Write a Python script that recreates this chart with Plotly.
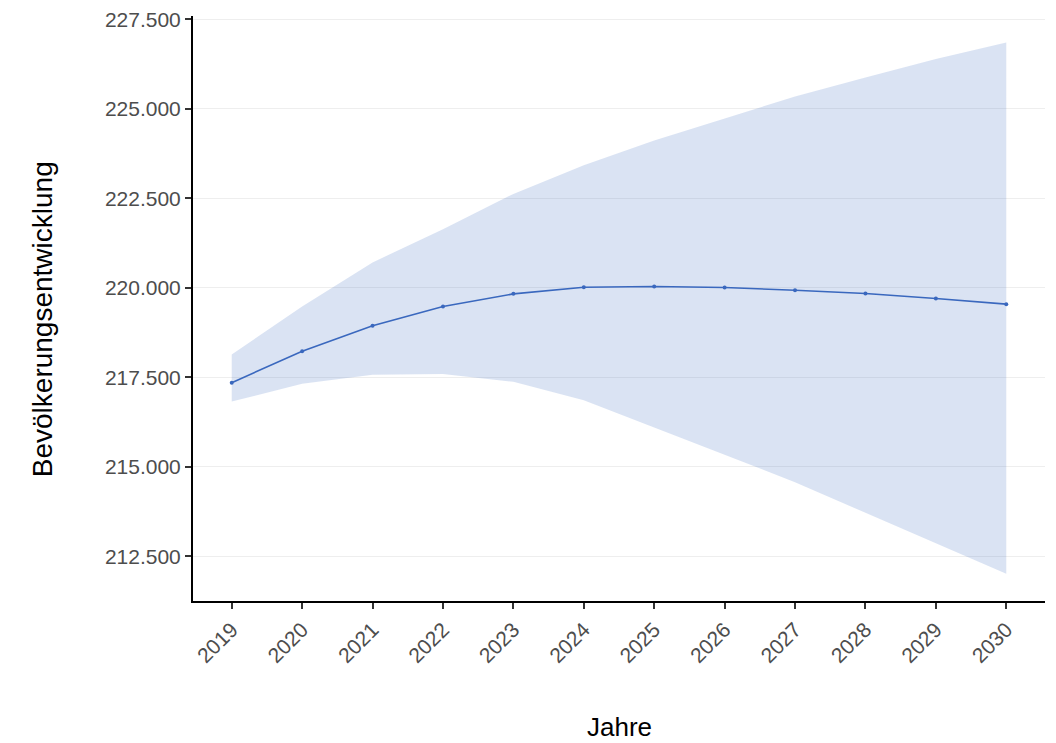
import plotly.graph_objects as go

years = [2019, 2020, 2021, 2022, 2023, 2024, 2025, 2026, 2027, 2028, 2029, 2030]
population = [217353, 218231, 218944, 219481, 219833, 220019, 220037, 220009, 219935, 219843, 219704, 219546]
upper = [218139, 219481, 220711, 221639, 222625, 223425, 224119, 224722, 225342, 225878, 226389, 226850]
lower = [216825, 217324, 217574, 217593, 217377, 216866, 216103, 215335, 214576, 213720, 212874, 212017]

y_ticks = [212500, 215000, 217500, 220000, 222500, 225000, 227500]

LINE = "#3A68BE"
FONT = "Liberation Sans Narrow, Arial Narrow, Liberation Sans, Arial, sans-serif"

fig = go.Figure()
fig.add_trace(go.Scatter(
    x=years, y=lower, mode="lines", line=dict(width=0),
    hoverinfo="skip", showlegend=False))
fig.add_trace(go.Scatter(
    x=years, y=upper, mode="lines", line=dict(width=0),
    fill="tonexty", fillcolor="rgba(58,104,190,0.19)",
    hoverinfo="skip", showlegend=False))
fig.add_trace(go.Scatter(
    x=years, y=population, mode="lines+markers",
    line=dict(color=LINE, width=1.6),
    marker=dict(color=LINE, size=4),
    showlegend=False))

# page body has an 8px margin, so the figure is sized/offset to compensate
fig.update_layout(
    width=1048, height=735,
    margin=dict(l=185, r=11, t=8, b=142),
    paper_bgcolor="white", plot_bgcolor="white",
    separators=",.",
    font=dict(family=FONT, size=21, color="#4D4D4D"),
    annotations=[
        dict(text="Bevölkerungsentwicklung", xref="paper", yref="paper",
             x=-0.177, y=0.482, xanchor="center", yanchor="middle",
             textangle=-90, showarrow=False,
             font=dict(family=FONT, size=28, color="black")),
        dict(text="Jahre", xref="paper", yref="paper",
             x=0.5, y=-0.215, xanchor="center", yanchor="middle",
             showarrow=False,
             font=dict(family=FONT, size=26, color="black")),
    ],
)
fig.update_xaxes(
    range=[2018.45, 2030.55], automargin=False, ticklabeloverflow="allow",
    tickmode="array", tickvals=years, ticktext=[str(y) for y in years],
    tickangle=-45,
    showgrid=False, zeroline=False,
    showline=True, linecolor="black", linewidth=2,
    ticks="outside", ticklen=6, tickwidth=2, tickcolor="#333333",
    tickfont=dict(family=FONT, size=21, color="#4D4D4D"),
)
fig.update_yaxes(
    range=[211257, 227592], automargin=False, ticklabeloverflow="allow",
    tickmode="array", tickvals=y_ticks,
    tickformat=",.0f",
    showgrid=True, gridcolor="#EEEEEE", gridwidth=1,
    zeroline=False,
    showline=True, linecolor="black", linewidth=2,
    ticks="outside", ticklen=6, tickwidth=2, tickcolor="#333333",
    tickfont=dict(family=FONT, size=21, color="#4D4D4D"),
)

fig.write_html("out.html")
